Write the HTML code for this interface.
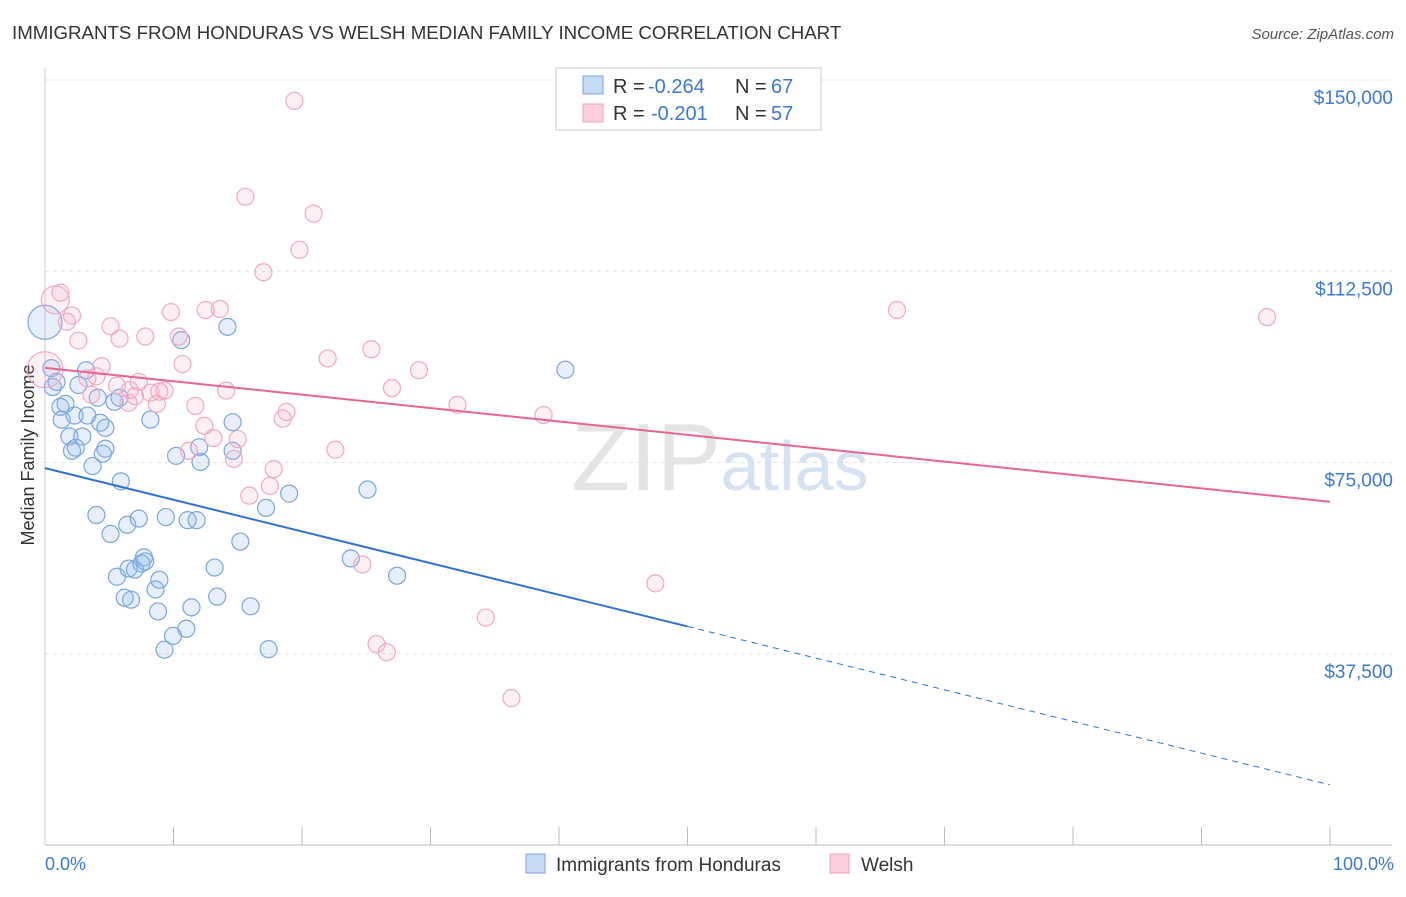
<!DOCTYPE html>
<html><head><meta charset="utf-8"><style>
body{margin:0;background:#fff;font-family:"Liberation Sans",sans-serif}
svg text{font-family:"Liberation Sans",sans-serif}
</style></head><body>
<svg width="1406" height="892">
<text x="12" y="39" font-size="18.7" fill="#333">IMMIGRANTS FROM HONDURAS VS WELSH MEDIAN FAMILY INCOME CORRELATION CHART</text>
<text x="1394" y="39" font-size="15" fill="#555" font-style="italic" text-anchor="end">Source: ZipAtlas.com</text>
<g id="grid"></g>
<text x="720" y="490" font-size="96" fill="#e4e4e4" text-anchor="middle" font-family="Liberation Serif">ZIP<tspan fill="#d4e2f4" font-family="Liberation Sans" font-size="70">atlas</tspan></text>
<text x="34" y="455" font-size="18" fill="#333" transform="rotate(-90 34 455)" text-anchor="middle">Median Family Income</text>
<g id="pts"></g>
<g id="lines"></g>
<g>
<rect x="556" y="68" width="265" height="62" fill="#fff" stroke="#ccc"/>
<rect x="583" y="76" width="20" height="18" fill="#c5daf6" stroke="#7aa6e0"/>
<text x="613" y="93" font-size="20" fill="#333">R =</text>
<text x="648" y="93" font-size="20" fill="#3b78d8">-0.264</text>
<text x="735" y="93" font-size="20" fill="#333">N =</text>
<text x="771" y="93" font-size="20" fill="#3b78d8">67</text>
<rect x="583" y="104" width="20" height="18" fill="#fbd0dc" stroke="#f0a0bc"/>
<text x="613" y="120" font-size="20" fill="#333">R =</text>
<text x="651" y="120" font-size="20" fill="#3b78d8">-0.201</text>
<text x="735" y="120" font-size="20" fill="#333">N =</text>
<text x="771" y="120" font-size="20" fill="#3b78d8">57</text>
</g>
<g>
<rect x="526" y="854" width="19" height="19" fill="#c5daf6" stroke="#7aa6e0"/>
<text x="556" y="871" font-size="19" fill="#333">Immigrants from Honduras</text>
<rect x="830" y="854" width="19" height="19" fill="#fbd0dc" stroke="#f0a0bc"/>
<text x="861" y="871" font-size="19" fill="#333">Welsh</text>
</g>
<text x="45" y="870" font-size="18" fill="#3b78d8">0.0%</text>
<text x="1394" y="870" font-size="18" fill="#3b78d8" text-anchor="end">100.0%</text>
</svg>
<script>
const yTicks=[150000,112500,75000,37500];
const yTickLabels=["$150,000","$112,500","$75,000","$37,500"];
const blueX=[0,0.5,0.6,0.9,1.2,1.3,1.6,1.9,2.1,2.3,2.4,2.6,2.9,3.2,3.3,3.7,4,4.1,4.3,4.5,4.7,4.7,5.1,5.4,5.6,5.8,5.9,6.2,6.4,6.5,6.7,7,7.3,7.5,7.7,7.8,8.2,8.6,8.8,8.9,9.3,9.4,9.96,10.2,10.6,11,11.1,11.4,11.8,12,12.1,13.2,13.4,14.2,14.6,14.6,15.2,16,17.2,17.4,19,23.8,25.1,27.4,40.5];
const blueY=[102500,93500,89800,90800,85900,83400,86500,80100,77300,84200,77900,90200,80100,93100,84200,74300,64700,87700,82800,76700,81800,77700,61000,86900,52600,87700,71300,48500,62800,54200,48100,54000,64000,55200,56400,55600,83400,50100,45800,52000,38300,64300,41000,76300,99000,42400,63700,46600,63700,78000,75100,54400,48700,101600,82900,77300,59500,46800,66100,38400,68900,56200,69700,52800,93200];
const pinkX=[0,0.8,1.2,1.7,2.1,2.6,3.3,3.6,4,4.4,5.1,5.6,5.8,6.5,6.6,7,7.3,7.8,8.2,8.7,8.9,9.3,9.8,10.4,10.7,11.2,11.7,12.4,12.5,13.1,13.6,14.1,14.7,15,15.6,15.9,17,17.5,17.8,18.5,18.8,19.4,19.8,20.9,22,22.6,24.7,25.4,25.8,26.6,27,29.1,32.1,34.3,36.3,38.8,47.5,66.3,95.1];
const pinkY=[93200,106900,108300,102600,103800,98900,91500,88300,91900,93900,101700,90100,99300,86700,89200,88000,90800,99700,88700,86500,88900,89100,104500,99700,94300,77300,86100,82200,104900,79800,105100,89100,75700,79600,127100,68500,112300,70400,73700,83600,84900,145900,116700,123800,95400,77500,55000,97200,39400,37800,89600,93100,86300,44600,28800,84300,51300,104900,103500];
const blueSize=[17];const pinkSize=[18,14];
const blueTrend=[73900,11800];
const pinkTrend=[93550,67300];
const X0=45,X1=1330,YT=80,YB=845,VMAX=150000;
const xs=p=>X0+(X1-X0)*p/100, ys=v=>YT+(YB-YT)*(VMAX-v)/VMAX;
const NS="http://www.w3.org/2000/svg";
function mk(t,a){const e=document.createElementNS(NS,t);for(const k in a)e.setAttribute(k,a[k]);return e;}
const grid=document.getElementById('grid');
yTicks.forEach((v,i)=>{
 const l=mk('line',{x1:X0,x2:1392,y1:ys(v),y2:ys(v),stroke:'#e2e2e2','stroke-dasharray':'4,4'});
 
 
 grid.appendChild(l);
 const t=mk('text',{x:1393,y:ys(v)+24,'font-size':19,fill:'#3b78d8','text-anchor':'end'});
 t.textContent=yTickLabels[i];
 
 
 grid.appendChild(t);
});
const ax=mk('line',{x1:X0,x2:1392,y1:YB,y2:YB,stroke:'#bbb'});


grid.appendChild(ax);
const yax=mk('line',{x1:X0,x2:X0,y1:68,y2:YB,stroke:'#ccc'});


grid.appendChild(yax);
for(let i=1;i<=10;i++){const t=mk('line',{x1:xs(i*10),x2:xs(i*10),y1:YB,y2:YB-18,stroke:'#bbb'});
 
 
 grid.appendChild(t);}
const pts=document.getElementById('pts');
function draw(X,Y,S,fill,stroke,name){X.forEach((x,i)=>{
 const c=mk('circle',{cx:xs(x),cy:ys(Y[i]),r:S[i]||8.5,fill:fill,stroke:stroke,'stroke-width':1.2});
 
 
 pts.appendChild(c);});}
draw(blueX,blueY,blueSize,'rgba(140,180,235,0.22)','#7aa6e2','honduras-point');
draw(pinkX,pinkY,pinkSize,'rgba(245,170,195,0.18)','#f2a8c2','welsh-point');
const lines=document.getElementById('lines');
const bMid=blueTrend[0]+(blueTrend[1]-blueTrend[0])*0.5;
let l=mk('line',{x1:xs(0),y1:ys(blueTrend[0]),x2:xs(50),y2:ys(bMid),stroke:'#2f72d6','stroke-width':2});


lines.appendChild(l);
l=mk('line',{x1:xs(50),y1:ys(bMid),x2:xs(100),y2:ys(blueTrend[1]),stroke:'#2f72d6','stroke-width':1,'stroke-dasharray':'6,5'});


lines.appendChild(l);
l=mk('line',{x1:xs(0),y1:ys(pinkTrend[0]),x2:xs(100),y2:ys(pinkTrend[1]),stroke:'#e8668e','stroke-width':2});


lines.appendChild(l);
</script>
</body></html>
